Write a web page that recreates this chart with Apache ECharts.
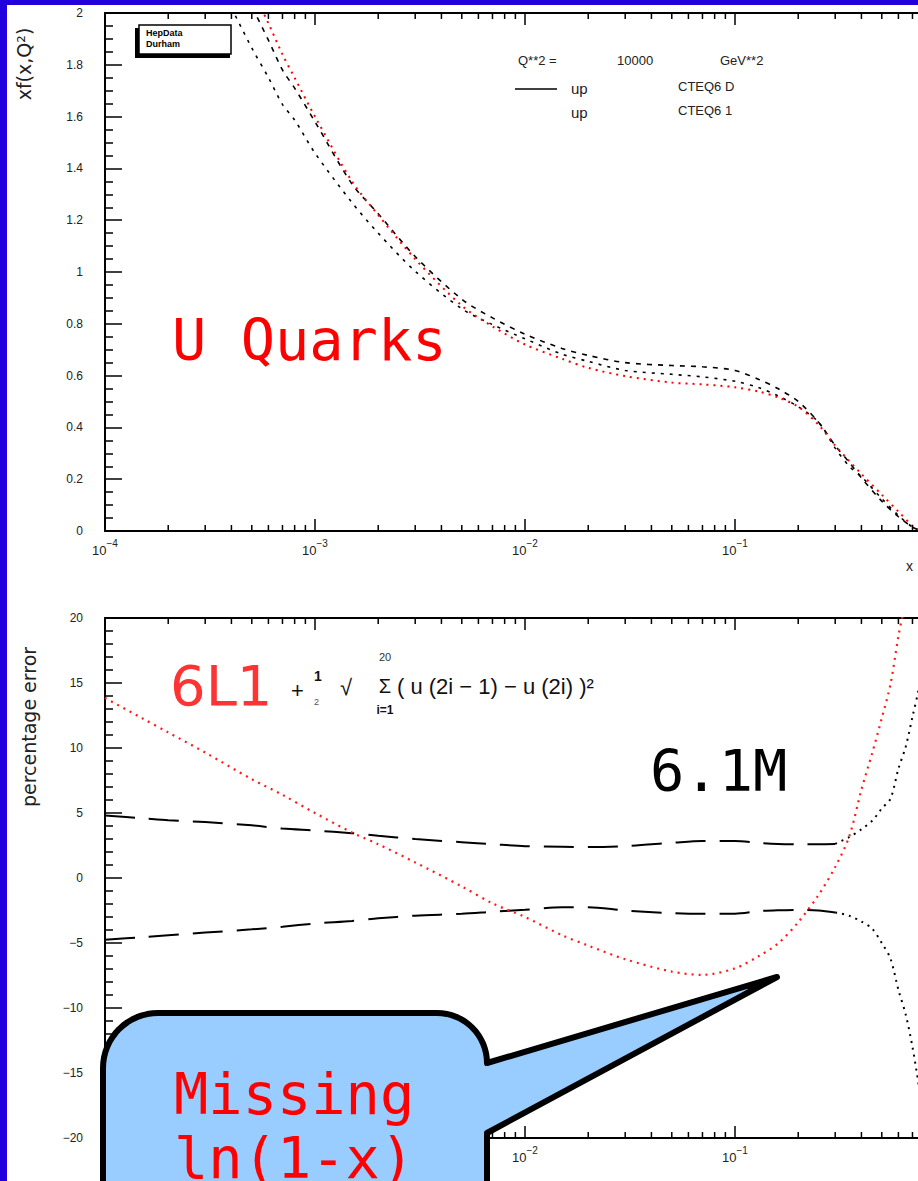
<!DOCTYPE html>
<html><head><meta charset="utf-8">
<script src="https://cdn.jsdelivr.net/npm/echarts@6/dist/echarts.min.js"></script>
<style>html,body{margin:0;padding:0;background:#ffffff;}#c{width:918px;height:1181px;}</style>
</head><body><div id="c"></div>
<script>
// ---------- data ----------
const xTop = [4e-4,5e-4,6e-4,7e-4,8e-4,1e-3,1.5e-3,2e-3,3e-3,5e-3,7e-3,1e-2,1.5e-2,2e-2,3e-2,5e-2,7e-2,0.1,0.13,0.16,0.2,0.25,0.3,0.35,0.4,0.5,0.6,0.7,0.75];
const upCteq6D = [2.12,2.02,1.895,1.78,1.71,1.58,1.34,1.225,1.06,0.895,0.823,0.76,0.705,0.678,0.65,0.639,0.634,0.62,0.585,0.55,0.5,0.42,0.33,0.265,0.205,0.115,0.055,0.015,0.004];
const upCteq61 = [2.02,1.865,1.751,1.647,1.587,1.459,1.268,1.15,1.003,0.858,0.797,0.742,0.683,0.655,0.62,0.605,0.595,0.578,0.553,0.522,0.48,0.42,0.32,0.25,0.21,0.125,0.06,0.015,0.004];
const up6L1 = [2.2,2.09,1.96,1.84,1.75,1.60,1.35,1.22,1.05,0.87,0.79,0.72,0.665,0.63,0.598,0.573,0.566,0.555,0.538,0.516,0.48,0.41,0.33,0.27,0.22,0.14,0.075,0.02,0.005];

const xBottom = [1e-4,1.5e-4,2e-4,3e-4,5e-4,7e-4,1e-3,1.5e-3,2e-3,3e-3,5e-3,7e-3,1e-2,1.5e-2,2e-2,3e-2,5e-2,7e-2,0.1,0.13,0.16,0.2,0.25,0.3,0.35,0.4,0.45,0.5,0.55,0.6,0.65,0.7,0.75,0.8,0.85];
const errUpper = [4.8,4.6,4.45,4.3,4.05,3.8,3.65,3.45,3.25,3.0,2.75,2.6,2.45,2.4,2.38,2.45,2.7,2.85,2.85,2.7,2.62,2.6,2.6,2.62,3.15,3.75,4.4,5.35,6.1,8.4,10.1,12.4,14.6,18,22];
const errLower = [-4.75,-4.55,-4.4,-4.2,-3.95,-3.75,-3.5,-3.3,-3.1,-2.9,-2.75,-2.6,-2.45,-2.25,-2.25,-2.5,-2.7,-2.75,-2.75,-2.55,-2.48,-2.45,-2.5,-2.65,-2.9,-3.35,-3.9,-5.0,-6.2,-8.6,-10.5,-13,-16,-20,-25];
const err6L1 = [13.85,12.3,11.2,9.65,7.6,6.4,5.0,3.5,2.6,1.2,-0.65,-1.95,-3.0,-4.4,-5.2,-6.25,-7.2,-7.45,-6.95,-6.0,-5.05,-3.4,-1.3,0.85,3.2,6.8,9.6,12.3,14.9,18.6,21.5,25,30,35,40];
const dashEnd = 0.3;            // black curves drawn dashed up to this x, dotted beyond

const decades = [1e-4,1e-3,1e-2,1e-1];
const minorMult = [2,3,4,5,6,7,8,9];
const topRange = [0, 2];
const botRange = [-20, 20];
const hiddenTopLabels = [1];                 // falls outside the cropped picture
const hiddenBottomLabels = [1e-4, 1e-3, 1];  // covered by the callout / cropped in the reference

// ---------- helpers ----------
const zip = (xs, ys) => xs.map((x, i) => [x, ys[i]]);
const minorTicks = [];
decades.forEach(d => minorMult.forEach(m => minorTicks.push([m * d, 0])));
const logLabel = v => {
  const e = Math.round(Math.log10(v));
  return '{b|10}{s|' + (e < 0 ? '\u2212' + (-e) : e) + '}';
};
const FONT = '"Liberation Sans", Arial, sans-serif';
const MONO = '"DejaVu Sans Mono", monospace';

function xAxisCfg(grid, pos, hide) {
  return {
    type: 'log', logBase: 10, gridIndex: grid, position: pos, min: 1e-4, max: 1,
    axisLine: {show: true, onZero: false, lineStyle: {color: '#000', width: 2}},
    axisTick: {show: true, inside: true, length: 12, lineStyle: {color: '#000', width: 1.5}},
    axisLabel: {show: pos === 'bottom', margin: 7,
      formatter: v => (hide && hide.some(h => Math.abs(Math.log10(h) - Math.log10(v)) < 1e-6)) ? '' : logLabel(v),
      rich: {b: {fontSize: 13, color: '#222', fontFamily: FONT, verticalAlign: 'bottom', padding: [6,0,0,0]},
             s: {fontSize: 10, color: '#222', fontFamily: FONT, verticalAlign: 'top'}}},
    splitLine: {show: false}, minorTick: {show: false}
  };
}
function yAxisCfg(grid, range, interval, split, fmt) {
  return {
    type: 'value', gridIndex: grid, min: range[0], max: range[1], interval: interval,
    axisLine: {show: true, onZero: false, lineStyle: {color: '#000', width: 2}},
    axisTick: {show: true, inside: true, length: 17, lineStyle: {color: '#000', width: 1.5}},
    minorTick: {show: true, splitNumber: split, length: 8, lineStyle: {color: '#000', width: 1.5}},
    axisLabel: {margin: 22, fontSize: 12, color: '#222', fontFamily: FONT, formatter: fmt},
    splitLine: {show: false}, minorSplitLine: {show: false}
  };
}
function minorSeries(xi, yi, range) {
  return {
    type: 'custom', xAxisIndex: xi, yAxisIndex: yi, silent: true, clip: false, z: 5,
    data: minorTicks,
    renderItem: (params, api) => {
      const x = api.value(0);
      const b = api.coord([x, range[0]]);
      const t = api.coord([x, range[1]]);
      const st = {stroke: '#000', lineWidth: 1.5};
      return {type: 'group', children: [
        {type: 'line', shape: {x1: b[0], y1: b[1], x2: b[0], y2: b[1] - 6}, style: st},
        {type: 'line', shape: {x1: t[0], y1: t[1], x2: t[0], y2: t[1] + 6}, style: st}
      ]};
    }
  };
}
function line(name, xi, yi, data, color, type, width) {
  return {type: 'line', name: name, xAxisIndex: xi, yAxisIndex: yi, data: data,
    showSymbol: false, smooth: 0.3, silent: true, z: 3,
    lineStyle: {color: color, width: width, type: type}};
}
const before = (xs, ys) => zip(xs, ys).filter(p => p[0] <= dashEnd);
const after = (xs, ys) => zip(xs, ys).filter(p => p[0] >= dashEnd);

// callout outline (rounded box with a pointer)
function arcPts(cx, cy, r, a0, a1, n) {
  const pts = [];
  for (let i = 0; i <= n; i++) {
    const a = (a0 + (a1 - a0) * i / n) * Math.PI / 180;
    pts.push([cx + r * Math.cos(a), cy + r * Math.sin(a)]);
  }
  return pts;
}
const bubble = [].concat(
  arcPts(158, 1068, 55, 180, 270, 16),
  arcPts(437, 1063, 50, 270, 360, 16),
  [[777, 977], [487, 1133], [487, 1260], [103, 1260]]
);

const chart = echarts.init(document.getElementById('c'), null, {renderer: 'svg'});
chart.setOption({
  backgroundColor: '#ffffff',
  animation: false,
  grid: [
    {left: 105, top: 13, width: 840, height: 518, containLabel: false, outerBoundsMode: 'none'},
    {left: 105, top: 618, width: 840, height: 520, containLabel: false, outerBoundsMode: 'none'}
  ],
  xAxis: [xAxisCfg(0, 'bottom', hiddenTopLabels), xAxisCfg(0, 'top'), xAxisCfg(1, 'bottom', hiddenBottomLabels), xAxisCfg(1, 'top')],
  yAxis: [
    yAxisCfg(0, topRange, 0.2, 4, v => String(Math.round(v * 10) / 10)),
    yAxisCfg(1, botRange, 5, 5, v => String(v).replace('-', '\u2212'))
  ],
  series: [
    minorSeries(0, 0, topRange),
    minorSeries(2, 1, botRange),
    line('up CTEQ6 D', 0, 0, zip(xTop, upCteq6D), '#000', [5, 6], 1.6),
    line('up CTEQ6 1', 0, 0, zip(xTop, upCteq61), '#000', [3, 6], 1.6),
    line('6L1', 0, 0, zip(xTop, up6L1), '#ff0000', [2, 5], 2),
    line('upper error', 2, 1, before(xBottom, errUpper), '#000', [30, 14], 2),
    line('upper error', 2, 1, after(xBottom, errUpper), '#000', [2, 5], 2),
    line('lower error', 2, 1, before(xBottom, errLower), '#000', [30, 14], 2),
    line('lower error', 2, 1, after(xBottom, errLower), '#000', [2, 5], 2),
    line('6L1 error', 2, 1, zip(xBottom, err6L1), '#ff1a1a', [2, 5], 2.2)
  ],
  graphic: [
    // HepData logo
    {type: 'rect', z: 20, shape: {x: 135, y: 28, width: 95, height: 30}, style: {fill: '#000'}},
    {type: 'rect', z: 21, shape: {x: 139, y: 25, width: 92, height: 29}, style: {fill: '#fff', stroke: '#000', lineWidth: 1.5}},
    {type: 'text', z: 22, x: 146, y: 33, style: {text: 'HepData', font: 'bold 9px ' + FONT, fill: '#000', textVerticalAlign: 'middle'}},
    {type: 'text', z: 22, x: 146, y: 44, style: {text: 'Durham', font: 'bold 9px ' + FONT, fill: '#000', textVerticalAlign: 'middle'}},
    // legend
    {type: 'text', z: 20, x: 518, y: 60, style: {text: 'Q**2 =', font: '13px ' + FONT, fill: '#222', textVerticalAlign: 'middle'}},
    {type: 'text', z: 20, x: 617, y: 60, style: {text: '10000', font: '13px ' + FONT, fill: '#222', textVerticalAlign: 'middle'}},
    {type: 'text', z: 20, x: 720, y: 60, style: {text: 'GeV**2', font: '13px ' + FONT, fill: '#222', textVerticalAlign: 'middle'}},
    {type: 'line', z: 20, shape: {x1: 515, y1: 89, x2: 557, y2: 89}, style: {stroke: '#000', lineWidth: 1.5}},
    {type: 'text', z: 20, x: 571, y: 88, style: {text: 'up', font: '15px ' + FONT, fill: '#222', textVerticalAlign: 'middle'}},
    {type: 'text', z: 20, x: 678, y: 86, style: {text: 'CTEQ6 D', font: '13px ' + FONT, fill: '#222', textVerticalAlign: 'middle'}},
    {type: 'text', z: 20, x: 571, y: 112, style: {text: 'up', font: '15px ' + FONT, fill: '#222', textVerticalAlign: 'middle'}},
    {type: 'text', z: 20, x: 678, y: 110, style: {text: 'CTEQ6 1', font: '13px ' + FONT, fill: '#222', textVerticalAlign: 'middle'}},
    // axis titles
    {type: 'text', z: 20, x: 24, y: 64, rotation: Math.PI / 2, style: {text: 'xf(x,Q\u00b2)', font: '19px "DejaVu Sans", sans-serif', fill: '#222', textAlign: 'center', textVerticalAlign: 'middle'}},
    {type: 'text', z: 20, x: 29, y: 727, rotation: Math.PI / 2, style: {text: 'percentage error', font: '19px "DejaVu Sans", sans-serif', fill: '#222', textAlign: 'center', textVerticalAlign: 'middle'}},
    {type: 'text', z: 20, x: 906, y: 566, style: {text: 'x', font: '14px ' + FONT, fill: '#222', textVerticalAlign: 'middle'}},
    // annotations
    {type: 'text', z: 30, x: 172, y: 340, style: {text: 'U Quarks', font: '57px ' + MONO, fill: '#ff0000', textVerticalAlign: 'middle'}},
    {type: 'text', z: 30, x: 170, y: 685, style: {text: '6L1', font: '56px "DejaVu Sans", sans-serif', fill: '#ff3333', textVerticalAlign: 'middle'}},
    {type: 'text', z: 30, x: 650, y: 771, style: {text: '6.1M', font: '57px ' + MONO, fill: '#000', textVerticalAlign: 'middle'}},
    // formula
    {type: 'text', z: 30, x: 291, y: 690, style: {text: '+', font: '22px ' + FONT, fill: '#111', textVerticalAlign: 'middle'}},
    {type: 'text', z: 30, x: 314, y: 676, style: {text: '1', font: 'bold 14px ' + FONT, fill: '#111', textVerticalAlign: 'middle'}},
    {type: 'text', z: 30, x: 314, y: 702, style: {text: '2', font: '9px ' + FONT, fill: '#555', textVerticalAlign: 'middle'}},
    {type: 'text', z: 30, x: 340, y: 687, style: {text: '\u221a', font: '22px ' + FONT, fill: '#111', textVerticalAlign: 'middle'}},
    {type: 'text', z: 30, x: 385, y: 657, style: {text: '20', font: '11px ' + FONT, fill: '#333', textAlign: 'center', textVerticalAlign: 'middle'}},
    {type: 'text', z: 30, x: 385, y: 686, style: {text: '\u03a3', font: '20px ' + FONT, fill: '#111', textAlign: 'center', textVerticalAlign: 'middle'}},
    {type: 'text', z: 30, x: 385, y: 710, style: {text: 'i=1', font: 'bold 12px ' + FONT, fill: '#111', textAlign: 'center', textVerticalAlign: 'middle'}},
    {type: 'text', z: 30, x: 397, y: 686, style: {text: '( u (2i \u2212 1) \u2212 u (2i) )\u00b2', font: '22px ' + FONT, fill: '#111', textVerticalAlign: 'middle'}},
    // callout
    {type: 'polygon', z: 40, shape: {points: bubble},
      style: {fill: '#99ccff', stroke: '#000', lineWidth: 6, lineJoin: 'round'}},
    {type: 'text', z: 41, x: 174, y: 1094, style: {text: 'Missing', font: '57px ' + MONO, fill: '#ff0000', textVerticalAlign: 'middle'}},
    {type: 'text', z: 41, x: 174, y: 1158, style: {text: 'ln(1-x)', font: '57px ' + MONO, fill: '#ff0000', textVerticalAlign: 'middle'}},
    // blue frame strips
    {type: 'rect', z: 100, shape: {x: 0, y: 0, width: 918, height: 5}, style: {fill: '#2200dd'}},
    {type: 'rect', z: 100, shape: {x: 0, y: 0, width: 7, height: 1181}, style: {fill: '#2200dd'}}
  ]
});
</script></body></html>
